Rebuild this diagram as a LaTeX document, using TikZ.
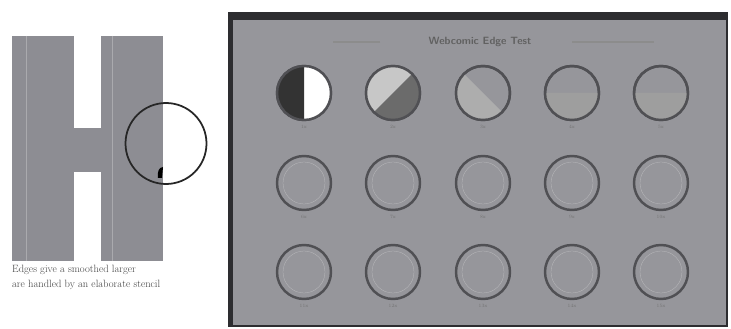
\documentclass[tikz,border=0pt]{standalone}
\usepackage{tikz}
\usetikzlibrary{positioning,calc}
\definecolor{hgray}{RGB}{141,141,147}
\definecolor{panelgray}{RGB}{150,150,155}
\definecolor{framegray}{RGB}{45,45,48}
\definecolor{ringgray}{RGB}{80,80,84}
\tikzset{
  lens/.style={circle,draw=ringgray,line width=3.5pt,minimum size=2.7cm,inner sep=0pt},
  lenslabel/.style={font=\fontsize{7}{8}\selectfont,text=black!55,inner sep=1pt}
}
\begin{document}
\begin{tikzpicture}[x=0.05cm,y=-0.05cm]
\fill[white] (0,0) rectangle (731,329);
\useasboundingbox (0,0) rectangle (731,329);
% the H
\fill[hgray] (12,36) rectangle (74,261);
\fill[hgray] (101,36) rectangle (163,261);
\fill[hgray] (74,128) rectangle (101,172);
\draw[white!25!hgray,thin] (26,36)--(26,261);
\draw[white!25!hgray,thin] (112,36)--(112,261);
\node[circle,draw=black!85,line width=2.5pt,minimum size=4.05cm,inner sep=0pt] (zoomring) at (166,143.5) {};
\fill[black] (158,178) .. controls (157,172) and (159,167) .. (163,167) -- (162,178) -- cycle;
\node[anchor=north west,align=left,font=\fontsize{15}{21}\selectfont,text=black!75,inner sep=0pt] (caption) at (12,265)
  {Edges give a smoothed larger\\are handled by an elaborate stencil};
% test panel
\fill[panelgray] (229,13) rectangle (727,326);
\draw[framegray,line width=2pt] (229,13) rectangle (727,326);
\fill[framegray] (229,12) rectangle (727,20);
\fill[framegray] (228,12) rectangle (233,326);
\node[font=\sffamily\bfseries\fontsize{15}{18}\selectfont,text=black!62] (title) at (480,42) {Webcomic Edge Test};
\draw[black!45,line width=2pt] ([xshift=-65pt]title.west) -- ++(-47,0);
\draw[black!45,line width=2pt] ([xshift=55pt]title.east) -- ++(82,0);
\foreach \r/\y in {1/93,2/183,3/272}{
  \foreach \c/\x in {1/304,2/393,3/483,4/572,5/661}{
    \node[lens] (c\r\c) at (\x,\y) {};
    \node[lenslabel,below=4pt of c\r\c] (l\r\c) {\pgfmathparse{int((\r-1)*5+\c)}\pgfmathresult x};
  }
}
% fills of the first row
\fill[white] (c11.center) ++(90:1.35cm) arc[start angle=90,end angle=-90,radius=1.35cm] -- cycle;
\fill[black!80] (c11.center) ++(90:1.35cm) arc[start angle=90,end angle=270,radius=1.35cm] -- cycle;
\draw[ringgray,line width=3.5pt] (c11) circle[radius=1.35cm];
\fill[black!22] (c12.center) ++(45:1.35cm) arc[start angle=45,end angle=225,radius=1.35cm] -- cycle;
\fill[black!58] (c12.center) ++(225:1.35cm) arc[start angle=225,end angle=405,radius=1.35cm] -- cycle;
\draw[ringgray,line width=3.5pt] (c12) circle[radius=1.35cm];
\fill[black!32] (c13.center) ++(135:1.35cm) arc[start angle=135,end angle=315,radius=1.35cm] -- cycle;
\draw[ringgray,line width=3.5pt] (c13) circle[radius=1.35cm];
\foreach \n in {14,15}{
  \fill[black!38] (c\n.center) ++(0:1.35cm) arc[start angle=0,end angle=-180,radius=1.35cm] -- cycle;
  \draw[ringgray,line width=3.5pt] (c\n) circle[radius=1.35cm];
}
\foreach \n in {21,22,23,24,25,31,32,33,34,35}{
  \draw[white!35!panelgray,thin] (c\n) circle[radius=1.05cm];
}
\end{tikzpicture}
\end{document}
